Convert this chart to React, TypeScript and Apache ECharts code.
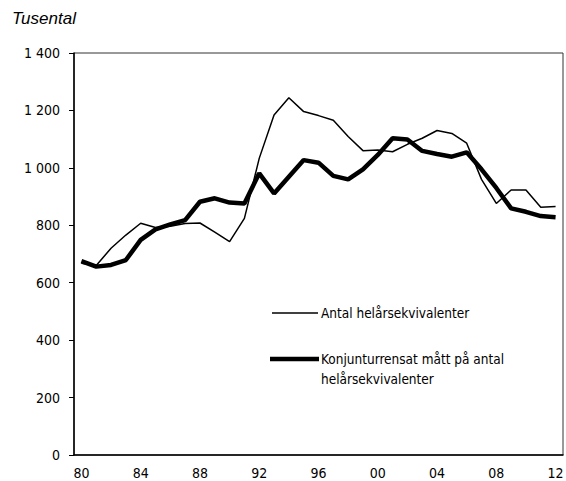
import React, { useEffect, useRef } from "react";
import * as echarts from "echarts";

const years: number[] = [];
for (let y = 1980; y <= 2012; y++) years.push(y);
const categories = years.map((y) => String(y % 100).padStart(2, "0"));

const antal = [668, 660, 720, 766, 807, 792, 797, 806, 808, 776, 743, 824, 1033, 1184, 1244, 1196, 1182, 1166, 1109, 1060, 1062, 1056, 1082, 1103, 1130, 1120, 1086, 960, 876, 923, 923, 863, 865];
const konj = [675, 656, 662, 679, 749, 786, 803, 818, 882, 894, 879, 876, 981, 911, 969, 1027, 1018, 972, 960, 995, 1045, 1103, 1099, 1059, 1048, 1039, 1054, 995, 930, 859, 847, 832, 828];

const yTicks = { min: 0, max: 1400, interval: 200 };
const seriesNames = ["Antal helårsekvivalenter", "Konjunturrensat mått på antal\nhelårsekvivalenter"];
const unitLabel = "Tusental";

const FONT = "'Liberation Sans Narrow', 'DejaVu Sans Condensed', 'Liberation Sans', sans-serif";

export default function App() {
  const ref = useRef<HTMLDivElement>(null);
  useEffect(() => {
    document.body.style.margin = "0";
    const chart = echarts.init(ref.current!, null, { renderer: "svg" });
    const fmt = (v: number) => (v >= 1000 ? `${Math.floor(v / 1000)} ${String(v % 1000).padStart(3, "0")}` : String(v));
    chart.setOption({
      animation: false,
      backgroundColor: "#fff",
      grid: { left: 74, right: 3, top: 53, bottom: 26, show: true, borderColor: "#333", borderWidth: 1, backgroundColor: "transparent", outerBoundsMode: "none", containLabel: false },
      xAxis: [
        {
          type: "category",
          data: categories,
          boundaryGap: true,
          axisLine: { lineStyle: { color: "#000", width: 1.5 } },
          axisTick: { interval: 1, length: 3, lineStyle: { color: "#000" } },
          axisLabel: { interval: 3, margin: 11, fontFamily: FONT, fontSize: 14, color: "#000" },
        },
        {
          type: "category",
          data: categories,
          boundaryGap: true,
          position: "bottom",
          axisLine: { show: false },
          axisTick: { interval: 1, length: 3, inside: true, lineStyle: { color: "#000" } },
          axisLabel: { show: false },
        },
      ],
      yAxis: {
        type: "value",
        ...yTicks,
        axisLine: { show: true, lineStyle: { color: "#000", width: 1.5 } },
        axisTick: { show: true, length: 5, lineStyle: { color: "#000" } },
        splitLine: { show: false },
        axisLabel: { margin: 14, fontFamily: FONT, fontSize: 14, color: "#000", formatter: fmt },
      },
      series: [
        { type: "line", name: seriesNames[0], data: antal, showSymbol: false, lineStyle: { color: "#000", width: 1.5 }, z: 3 },
        { type: "line", name: seriesNames[1], data: konj, showSymbol: false, lineStyle: { color: "#000", width: 4.5 }, z: 2 },
      ],
      graphic: [
        { type: "text", left: 12, top: 10, style: { text: unitLabel, font: "italic 17px 'Liberation Sans', Arial, sans-serif", fill: "#000" } },
        { type: "line", shape: { x1: 272, y1: 313, x2: 318, y2: 313 }, style: { stroke: "#000", lineWidth: 1.5 } },
        { type: "text", x: 321, y: 313, style: { text: seriesNames[0], font: `13.5px ${FONT}`, fill: "#000", verticalAlign: "middle" } },
        { type: "line", shape: { x1: 270, y1: 359, x2: 319, y2: 359 }, style: { stroke: "#000", lineWidth: 4.5 } },
        { type: "text", x: 321, y: 349, style: { text: seriesNames[1], font: `13.5px ${FONT}`, lineHeight: 20, fill: "#000", verticalAlign: "top" } },
      ],
    });
    return () => chart.dispose();
  }, []);
  return <div ref={ref} style={{ position: "absolute", left: 0, top: 0, width: 566, height: 481 }} />;
}
